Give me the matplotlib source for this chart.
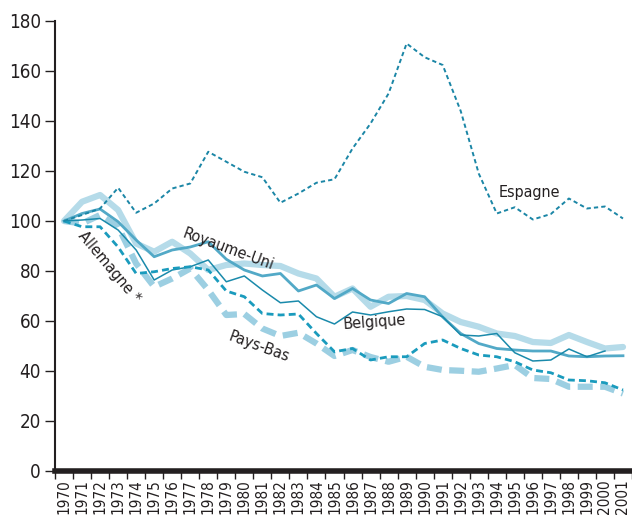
import numpy as np
import matplotlib.pyplot as plt

annees = np.arange(1970, 2002)

espagne = [100, 102.4, 105, 113.3, 103.3, 107, 113, 115, 127.7, 123.7, 119.7, 117.5,
           107.3, 111, 115.3, 116.7, 129, 139, 151, 171, 165.5, 162.4, 144, 119,
           103, 105.5, 100.6, 102.8, 109, 105, 105.8, 101]
clair = [100, 107.7, 110.4, 104.4, 91, 87.7, 91.7, 87, 80.4, 82.4, 83, 82.4,
         82, 79, 77, 69.7, 73, 65.7, 69.7, 70, 68.4, 63, 59.6, 57.7,
         55, 54, 51.6, 51.2, 54.4, 51.6, 49, 49.6]
royaume_uni = [100, 103, 104.8, 99.7, 92.4, 85.7, 88.4, 89.6, 91.7, 84.7, 80.4, 78,
               79, 72, 74.4, 69, 73, 68.4, 67, 71, 69.7, 61.6, 55, 51,
               49, 48.4, 48, 48, 46, 45.7, 46, 46.1]
belgique = [100, 100.4, 101, 96.4, 88.4, 76.4, 80.4, 81.7, 84.4, 75.7, 78, 72.4,
            67.3, 68, 61.7, 58.8, 63.6, 62.4, 63.7, 64.8, 64.6, 61.7, 54.4, 54,
            55, 47.3, 44, 44.4, 48.8, 45.7, 48, np.nan]
allemagne = [100, 97.7, 97.7, 89.6, 79, 79.7, 81, 81.7, 80.4, 72, 69.7, 63,
             62.4, 62.8, 55, 47.7, 49, 44.4, 45.7, 45.7, 51, 52.4, 49, 46.4,
             45.7, 43.7, 40.4, 39.3, 36.4, 36.1, 35.3, 32.4]
pays_bas = [100, 99, 102.4, 97.7, 83, 73.7, 77, 81, 72.4, 62.4, 62.8, 57,
            54, 55.3, 51, 46, 48.4, 45.6, 43.7, 45.7, 41.7, 40.4, 40.1, 39.7,
            41, 42.4, 37.2, 36.8, 33.7, 33.7, 33.7, 31]

plt.rcParams['font.family'] = ['DejaVu Sans']
plt.rcParams['font.stretch'] = 'condensed'
noir = '#231f20'

fig = plt.figure(figsize=(6.32, 5.17), dpi=100)
ax = fig.add_axes([55/632, 1 - 471/517, 1 - 55/632, (471 - 21)/517])

ax.plot(annees, clair, color='#b5dbe9', lw=4.5, solid_capstyle='round', zorder=2)
ax.plot(annees, pays_bas, color='#9ccfe2', lw=4.5, dashes=(2.4, 1.2), zorder=2)
ax.plot(annees, royaume_uni, color='#52a9c7', lw=2, zorder=3)
ax.plot(annees, belgique, color='#1a8aab', lw=1.1, zorder=4)
ax.plot(annees, allemagne, color='#1a9bbd', lw=2, dashes=(2.5, 1.5), zorder=4)
ax.plot(annees, espagne, color='#1b86a6', lw=1.4, dashes=(2.2, 1.6), zorder=4)

ax.set_xlim(1969.55, 2001.4)
ax.set_ylim(0, 180)

ax.set_yticks(np.arange(0, 181, 20))
ax.tick_params(axis='y', length=7, width=1, colors=noir, labelsize=13.5, pad=3)
ax.set_xticks(annees)
ax.set_xticklabels([str(a) for a in annees], rotation=90, fontsize=11, color=noir)
ax.set_xticks(np.arange(1969.5, 2002, 1), minor=True)
ax.tick_params(axis='x', which='major', length=0, pad=6)
ax.tick_params(axis='x', which='minor', length=6, width=1, color=noir)

for s in ['top', 'right']:
    ax.spines[s].set_visible(False)
ax.spines['left'].set_linewidth(1.5)
ax.spines['left'].set_color(noir)
ax.spines['bottom'].set_linewidth(4)
ax.spines['bottom'].set_color(noir)

ax.text(1995.8, 111.5, 'Espagne', fontsize=11.5, color=noir, ha='center', va='center')
ax.text(1979.1, 88.8, 'Royaume-Uni', fontsize=11.5, color=noir, ha='center', va='center',
        rotation=-20)
ax.text(1972.5, 81.5, 'Allemagne *', fontsize=11.5, color=noir, ha='center', va='center',
        rotation=-50)
ax.text(1987.2, 59.5, 'Belgique', fontsize=11.5, color=noir, ha='center', va='center',
        rotation=4)
ax.text(1980.8, 49.5, 'Pays-Bas', fontsize=11.5, color=noir, ha='center', va='center',
        rotation=-20)

fig.savefig('out.png', dpi=100)
